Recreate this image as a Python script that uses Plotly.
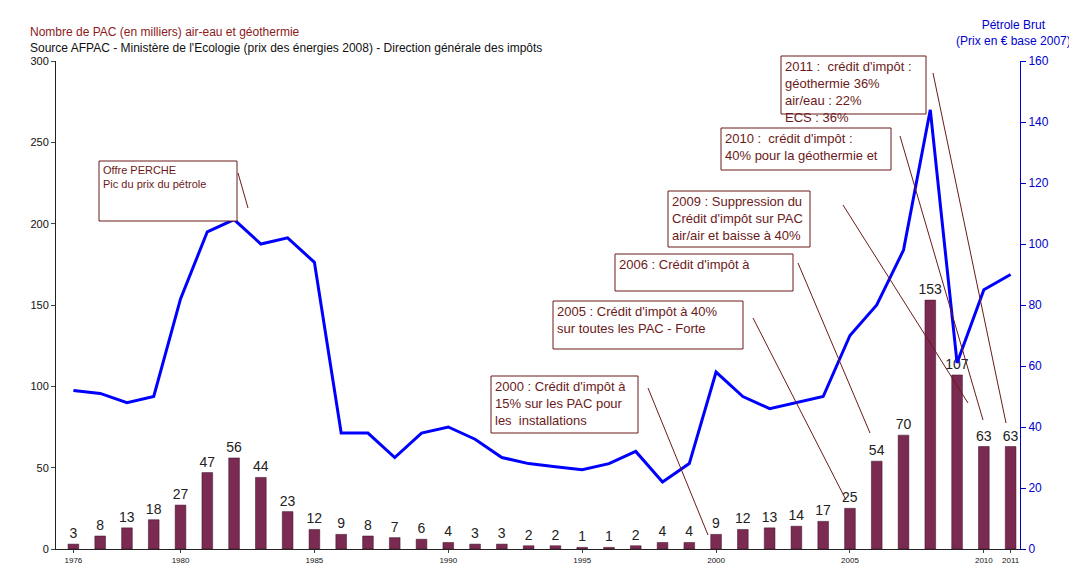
import plotly.graph_objects as go

years = list(range(1976, 2012))
pac = [3,8,13,18,27,47,56,44,23,12,9,8,7,6,4,3,3,2,2,1,1,2,4,4,9,12,13,14,17,25,54,70,153,107,63,63]
oil = [52,51,48,50,82,104,108,100,102,94,38,38,30,38,40,36,30,28,27,26,28,32,22,28,58,50,46,48,50,70,80,98,144,61,85,90]
tickvals = [1976,1980,1985,1990,1995,2000,2005,2010,2011]

L, R, T, B = 48, 1012, 53, 541
def px(x): return (x - L) / (R - L)
def py(y): return (B - y) / (B - T)

fig = go.Figure()
fig.add_bar(x=years, y=pac, marker=dict(color="#7B2A52", line=dict(color="#3a1028", width=0.5)),
            width=0.4, text=[str(v) for v in pac], textposition="outside", constraintext="none",
            textfont=dict(size=14, color="#222"), cliponaxis=False, yaxis="y")
fig.add_scatter(x=years, y=oil, mode="lines", line=dict(color="#0000FF", width=3), yaxis="y2")

boxes = [
    (91, 153, 229, 213, "Offre PERCHE<br>Pic du prix du pétrole", 11, (230,165,240,200)),
    (483, 368, 630, 425, "2000 : Crédit d'impôt à<br>15% sur les PAC pour<br>les  installations", 13, (640,380,700,527)),
    (545, 293, 735, 341, "2005 : Crédit d'impôt à 40%<br>sur toutes les PAC - Forte", 13, (745,310,838,492)),
    (607, 246, 785, 283, "2006 : Crédit d'impôt à", 13, (790,255,862,425)),
    (660, 183, 802, 239, "2009 : Suppression du<br>Crédit d'impôt sur PAC<br>air/air et baisse à 40%", 13, (835,197,960,395)),
    (713, 120, 883, 162, "2010 :  crédit d'impôt :<br>40% pour la géothermie et", 13, (892,128,975,412)),
    (773, 48, 918, 106, "2011 :  crédit d'impôt :<br>géothermie 36%<br>air/eau : 22%<br>ECS : 36%", 13, (925,65,998,415)),
]
shapes, annos = [], []
for x0, y0, x1, y1, txt, fs, ln in boxes:
    shapes.append(dict(type="rect", xref="paper", yref="paper", x0=px(x0), x1=px(x1), y0=py(y1), y1=py(y0),
                       line=dict(color="#6B1A1A", width=1), fillcolor="white", layer="above"))
    annos.append(dict(xref="paper", yref="paper", x=px(x0+2), y=py(y0+1), xanchor="left", yanchor="top",
                      text=txt, showarrow=False, align="left", font=dict(size=fs, color="#6B1A1A")))
    shapes.append(dict(type="line", xref="paper", yref="paper", x0=px(ln[0]), y0=py(ln[1]), x1=px(ln[2]), y1=py(ln[3]),
                       line=dict(color="#6B1A1A", width=1)))

annos += [
    dict(xref="paper", yref="paper", x=px(20), y=py(24), xanchor="left", yanchor="middle", showarrow=False,
         text="Nombre de PAC (en milliers) air-eau et géothermie", font=dict(size=12, color="#8B1A1A")),
    dict(xref="paper", yref="paper", x=px(20), y=py(40), xanchor="left", yanchor="middle", showarrow=False,
         text="Source AFPAC - Ministère de l'Ecologie (prix des énergies 2008) - Direction générale des impôts",
         font=dict(size=12, color="#111")),
    dict(xref="paper", yref="paper", x=px(1005), y=py(25), xanchor="center", yanchor="middle", showarrow=False,
         text="Pétrole Brut<br>(Prix en € base 2007)", font=dict(size=12, color="#0000CC")),
]

fig.update_layout(
    width=1077, height=572, margin=dict(l=L, r=1077-R, t=T, b=572-B, autoexpand=False),
    paper_bgcolor="white", plot_bgcolor="white", showlegend=False, bargap=0.5,
    font=dict(family="Liberation Sans, Arial", color="#111"),
    xaxis=dict(range=[1975.35, 2011.35], tickvals=tickvals, ticktext=[str(t) for t in tickvals], automargin=False,
               tickfont=dict(size=8), showgrid=False, showline=True, linecolor="#222", ticks="outside", ticklen=3),
    yaxis=dict(range=[0, 300], dtick=50, showgrid=False, showline=True, linecolor="#222", ticks="outside",
               ticklen=4, tickfont=dict(size=11), zeroline=False, automargin=False),
    yaxis2=dict(range=[0, 160], dtick=20, overlaying="y", side="right", showgrid=False, showline=True,
                linecolor="#0000CC", ticks="outside", ticklen=5, tickcolor="#0000CC", automargin=False,
                tickfont=dict(size=12, color="#0000CC"), zeroline=False),
    shapes=shapes, annotations=annos,
)
fig.write_html("out.html")
